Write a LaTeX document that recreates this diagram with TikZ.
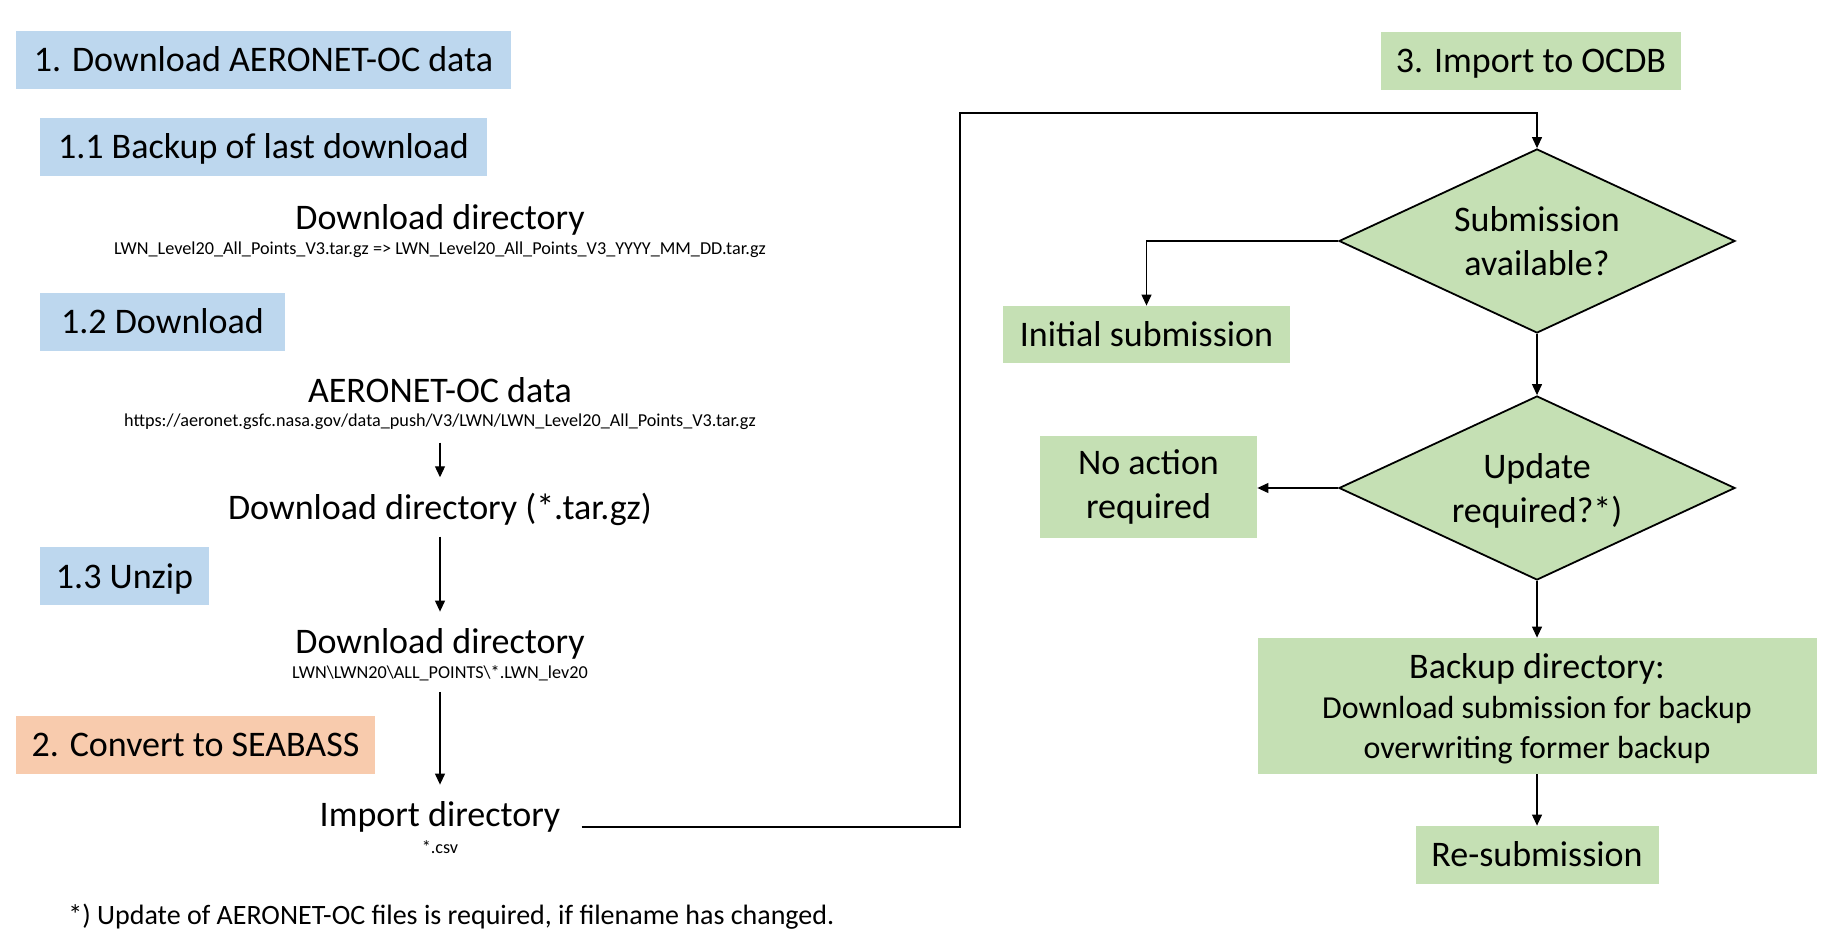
\documentclass[tikz,border=0pt]{standalone}
\usepackage{fontspec}
\setmainfont{Carlito}
\usetikzlibrary{shapes.geometric,arrows.meta}
\definecolor{bluebox}{HTML}{BDD7EE}
\definecolor{orangebox}{HTML}{F8CBAD}
\definecolor{greenbox}{HTML}{C5E0B4}
\tikzset{
  big/.style={font=\fontsize{18}{21.6}\selectfont},
  small/.style={font=\fontsize{9.1}{10.5}\selectfont},
  foot/.style={font=\fontsize{14}{17}\selectfont},
  hdr/.style={big, inner sep=0pt, text height=11.6pt, text depth=0pt, minimum height=29pt},
  bluehdr/.style={hdr, fill=bluebox},
  orangehdr/.style={hdr, fill=orangebox},
  greenhdr/.style={hdr, fill=greenbox},
  greenbox/.style={big, fill=greenbox, inner sep=0pt, align=center},
  lbl/.style={anchor=base, inner sep=0pt},
  arr/.style={draw=black, line width=0.6pt, -{Triangle[length=5.5pt,width=5pt]}},
  dec/.style={diamond, aspect=2.15, draw=black, line width=0.9pt, fill=greenbox, minimum width=198pt, minimum height=92pt, inner sep=0pt, text depth=0pt, align=center, big}
}
\begin{document}
\begin{tikzpicture}[x=0.5pt,y=-0.5pt]
\useasboundingbox (0,0) rectangle (1836,945);
% section headers
\node[bluehdr, minimum width=247.5pt] (s1) at (263.5,60) {1. Download AERONET-OC data};
\node[bluehdr, minimum width=223.5pt] (s11) at (263.5,147) {1.1 Backup of last download};
\node[bluehdr, minimum width=122.5pt] (s12) at (162.5,322) {1.2 Download};
\node[bluehdr, minimum width=84.5pt] (s13) at (124.5,576.5) {1.3 Unzip};
\node[orangehdr, minimum width=179.5pt] (s2) at (195.5,745) {2. Convert to SEABASS};
\node[greenhdr, minimum width=150pt] (s3) at (1531,61) {3. Import to OCDB};
% left column texts
\node[big,lbl] (dd1) at (440,230) {Download directory};
\node[small,lbl] (dd1s) at (440,255) {LWN\_Level20\_All\_Points\_V3.tar.gz => LWN\_Level20\_All\_Points\_V3\_YYYY\_MM\_DD.tar.gz};
\node[big,lbl] (aer) at (440,403) {AERONET-OC data};
\node[small,lbl] (url) at (440,427) {https://aeronet.gsfc.nasa.gov/data\_push/V3/LWN/LWN\_Level20\_All\_Points\_V3.tar.gz};
\node[big,lbl] (dd2) at (440,520) {Download directory (*.tar.gz)};
\node[big,lbl] (dd3) at (440,654) {Download directory};
\node[small,lbl] (dd3s) at (440,679) {LWN\textbackslash LWN20\textbackslash ALL\_POINTS\textbackslash *.LWN\_lev20};
\node[big,lbl] (imp) at (440,827) {Import directory};
\node[small,lbl] (imps) at (440,853) {*.csv};
\node[foot, anchor=base west, inner sep=0pt] (fn) at (68,924) {*) Update of AERONET-OC files is required, if filename has changed.};
% right column
\node[dec] (d1) at (1537,241) {Submission\\available?};
\node[dec] (d2) at (1537,488) {Update\\required?*)};
\node[greenbox, minimum width=143.5pt, minimum height=28.5pt, text height=11.6pt, text depth=0pt] (init) at (1146.5,334.5) {Initial submission};
\node[greenbox, minimum width=108.5pt, minimum height=51pt] (noact) at (1148.5,487) {No action\\required};
\node[greenbox, font=\fontsize{16}{20}\selectfont, text depth=0pt, minimum width=279.5pt, minimum height=68pt] (bk) at (1537,706) {{\fontsize{18}{20}\selectfont Backup directory:}\\Download submission for backup\\overwriting former backup};
\node[greenhdr, minimum width=121.5pt] (resub) at (1537,855) {Re-submission};
\coordinate (turn) at (960,113);
% connectors
\draw[arr, shorten <=6pt, shorten >=8pt] (url.south) -- (dd2.north);
\draw[arr, shorten <=5pt, shorten >=8.5pt] (dd2.south) -- (dd3.north);
\draw[arr, shorten <=5pt, shorten >=8.5pt] (dd3s.south) -- (imp.north);
\draw[arr] ([xshift=10.5pt]imp.base east) -| (turn) -| (d1.north);
\draw[arr] (d1.west) -| (init.north);
\draw[arr] (d1.south) -- (d2.north);
\draw[arr] (d2.west) -- (noact.east |- d2.west);
\draw[arr] (d2.south) -- (bk.north);
\draw[arr] (bk.south) -- (resub.north);
\end{tikzpicture}
\end{document}
